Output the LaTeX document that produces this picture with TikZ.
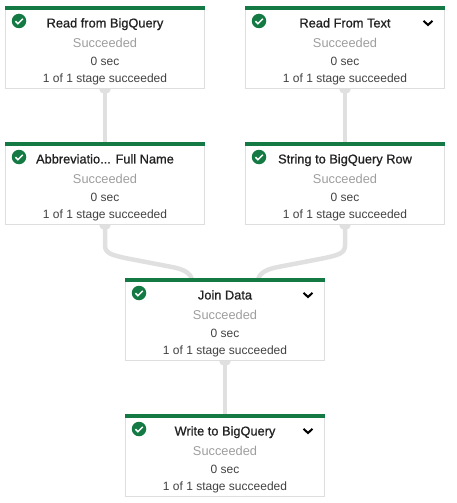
\documentclass[tikz,border=0pt]{standalone}
\usepackage{fontspec}
\setmainfont{Liberation Sans}
\newfontfamily\titlefont[RawFeature={embolden=0.8}]{Liberation Sans}
\usetikzlibrary{arrows.meta,backgrounds,calc}
\definecolor{dfgreen}{RGB}{19,122,68}
\definecolor{dfwire}{RGB}{224,224,224}
\definecolor{dfborder}{RGB}{222,222,222}
\definecolor{dftitle}{RGB}{33,33,33}
\definecolor{dfgrey}{RGB}{158,158,158}
\definecolor{dftext}{RGB}{66,66,66}
\newcommand{\stagetext}[1]{\rule{0pt}{16pt}{\titlefont\fontsize{12.8}{14}\selectfont\color{dftitle}#1}\\[6.2pt]{\fontsize{12.8}{14}\selectfont\color{dfgrey}Succeeded}\\[4.2pt]0 sec\\[2.2pt]1 of 1 stage succeeded}

\begin{document}
\begin{tikzpicture}[
  x=1pt, y=-1pt,
  box/.style={rectangle, draw=dfborder, line width=0.8pt, fill=white, minimum width=198.5pt, minimum height=80pt, inner sep=0pt, align=center, font=\fontsize{12}{14}\selectfont, text=dftext},
  topbar/.style={dfgreen, line width=4pt},
  okicon/.style={circle, fill=dfgreen, minimum size=14.5pt, inner sep=0pt, path picture={\draw[white, line width=1.5pt] (path picture bounding box.center) ++(-3.6,0.2) -- ++(2.5,2.5) -- ++(4.9,-4.9);}},
  chevron/.style={minimum size=14pt, inner sep=0pt, path picture={\draw[black, line width=2pt] (path picture bounding box.center) ++(-4.5,-2.2) -- ++(4.5,4.2) -- ++(4.5,-4.2);}},
  wire/.style={dfwire, line width=4.5pt, {Circle[length=12pt]}-, shorten <=-6.5pt}
]
\useasboundingbox (0,0) rectangle (456,503);

% Stages
\node[box] (bqread) at (105,48) {\stagetext{Read from BigQuery}};
\node[box] (textread) at (345,48) {\stagetext{Read From Text}};
\node[box] (abbrev) at (105,184) {\stagetext{Abbreviatio... Full Name}};
\node[box] (bqrow) at (345,184) {\stagetext{String to BigQuery Row}};
\node[box] (joindata) at (225,320) {\stagetext{Join Data}};
\node[box] (bqwrite) at (225,456) {\stagetext{Write to BigQuery}};

% Green bars
\draw[topbar] (bqread.north west) -- (bqread.north east);
\draw[topbar] (textread.north west) -- (textread.north east);
\draw[topbar] (abbrev.north west) -- (abbrev.north east);
\draw[topbar] (bqrow.north west) -- (bqrow.north east);
\draw[topbar] (joindata.north west) -- (joindata.north east);
\draw[topbar] (bqwrite.north west) -- (bqwrite.north east);

% Status icons
\node[okicon] (bqreadok) at (19,21) {};
\node[okicon] (textreadok) at (259,21) {};
\node[okicon] (abbrevok) at (19,157) {};
\node[okicon] (bqrowok) at (259,157) {};
\node[okicon] (joindataok) at (139,293) {};
\node[okicon] (bqwriteok) at (139,429) {};

% Chevrons
\node[chevron] (textreadmore) at (428,23) {};
\node[chevron] (joindatamore) at (308,295) {};
\node[chevron] (bqwritemore) at (308,431) {};

% Wires
\coordinate (joinleft) at ($(joindata.north)+(-33,0)$);
\coordinate (joinright) at ($(joindata.north)+(33,0)$);
\begin{scope}[on background layer]
\draw[wire] (bqread.south) -- (abbrev.north);
\draw[wire] (textread.south) -- (bqrow.north);
\draw[wire] (abbrev.south) -- ++(0,21) .. controls ++(0,8) and (112,255) .. (125,258) -- (172,267) .. controls (182,269) and (190,272) .. (joinleft);
\draw[wire] (bqrow.south) -- ++(0,21) .. controls ++(0,8) and (338,255) .. (325,258) -- (278,267) .. controls (268,269) and (260,272) .. (joinright);
\draw[wire] (joindata.south) -- (bqwrite.north);
\end{scope}

\end{tikzpicture}
\end{document}
